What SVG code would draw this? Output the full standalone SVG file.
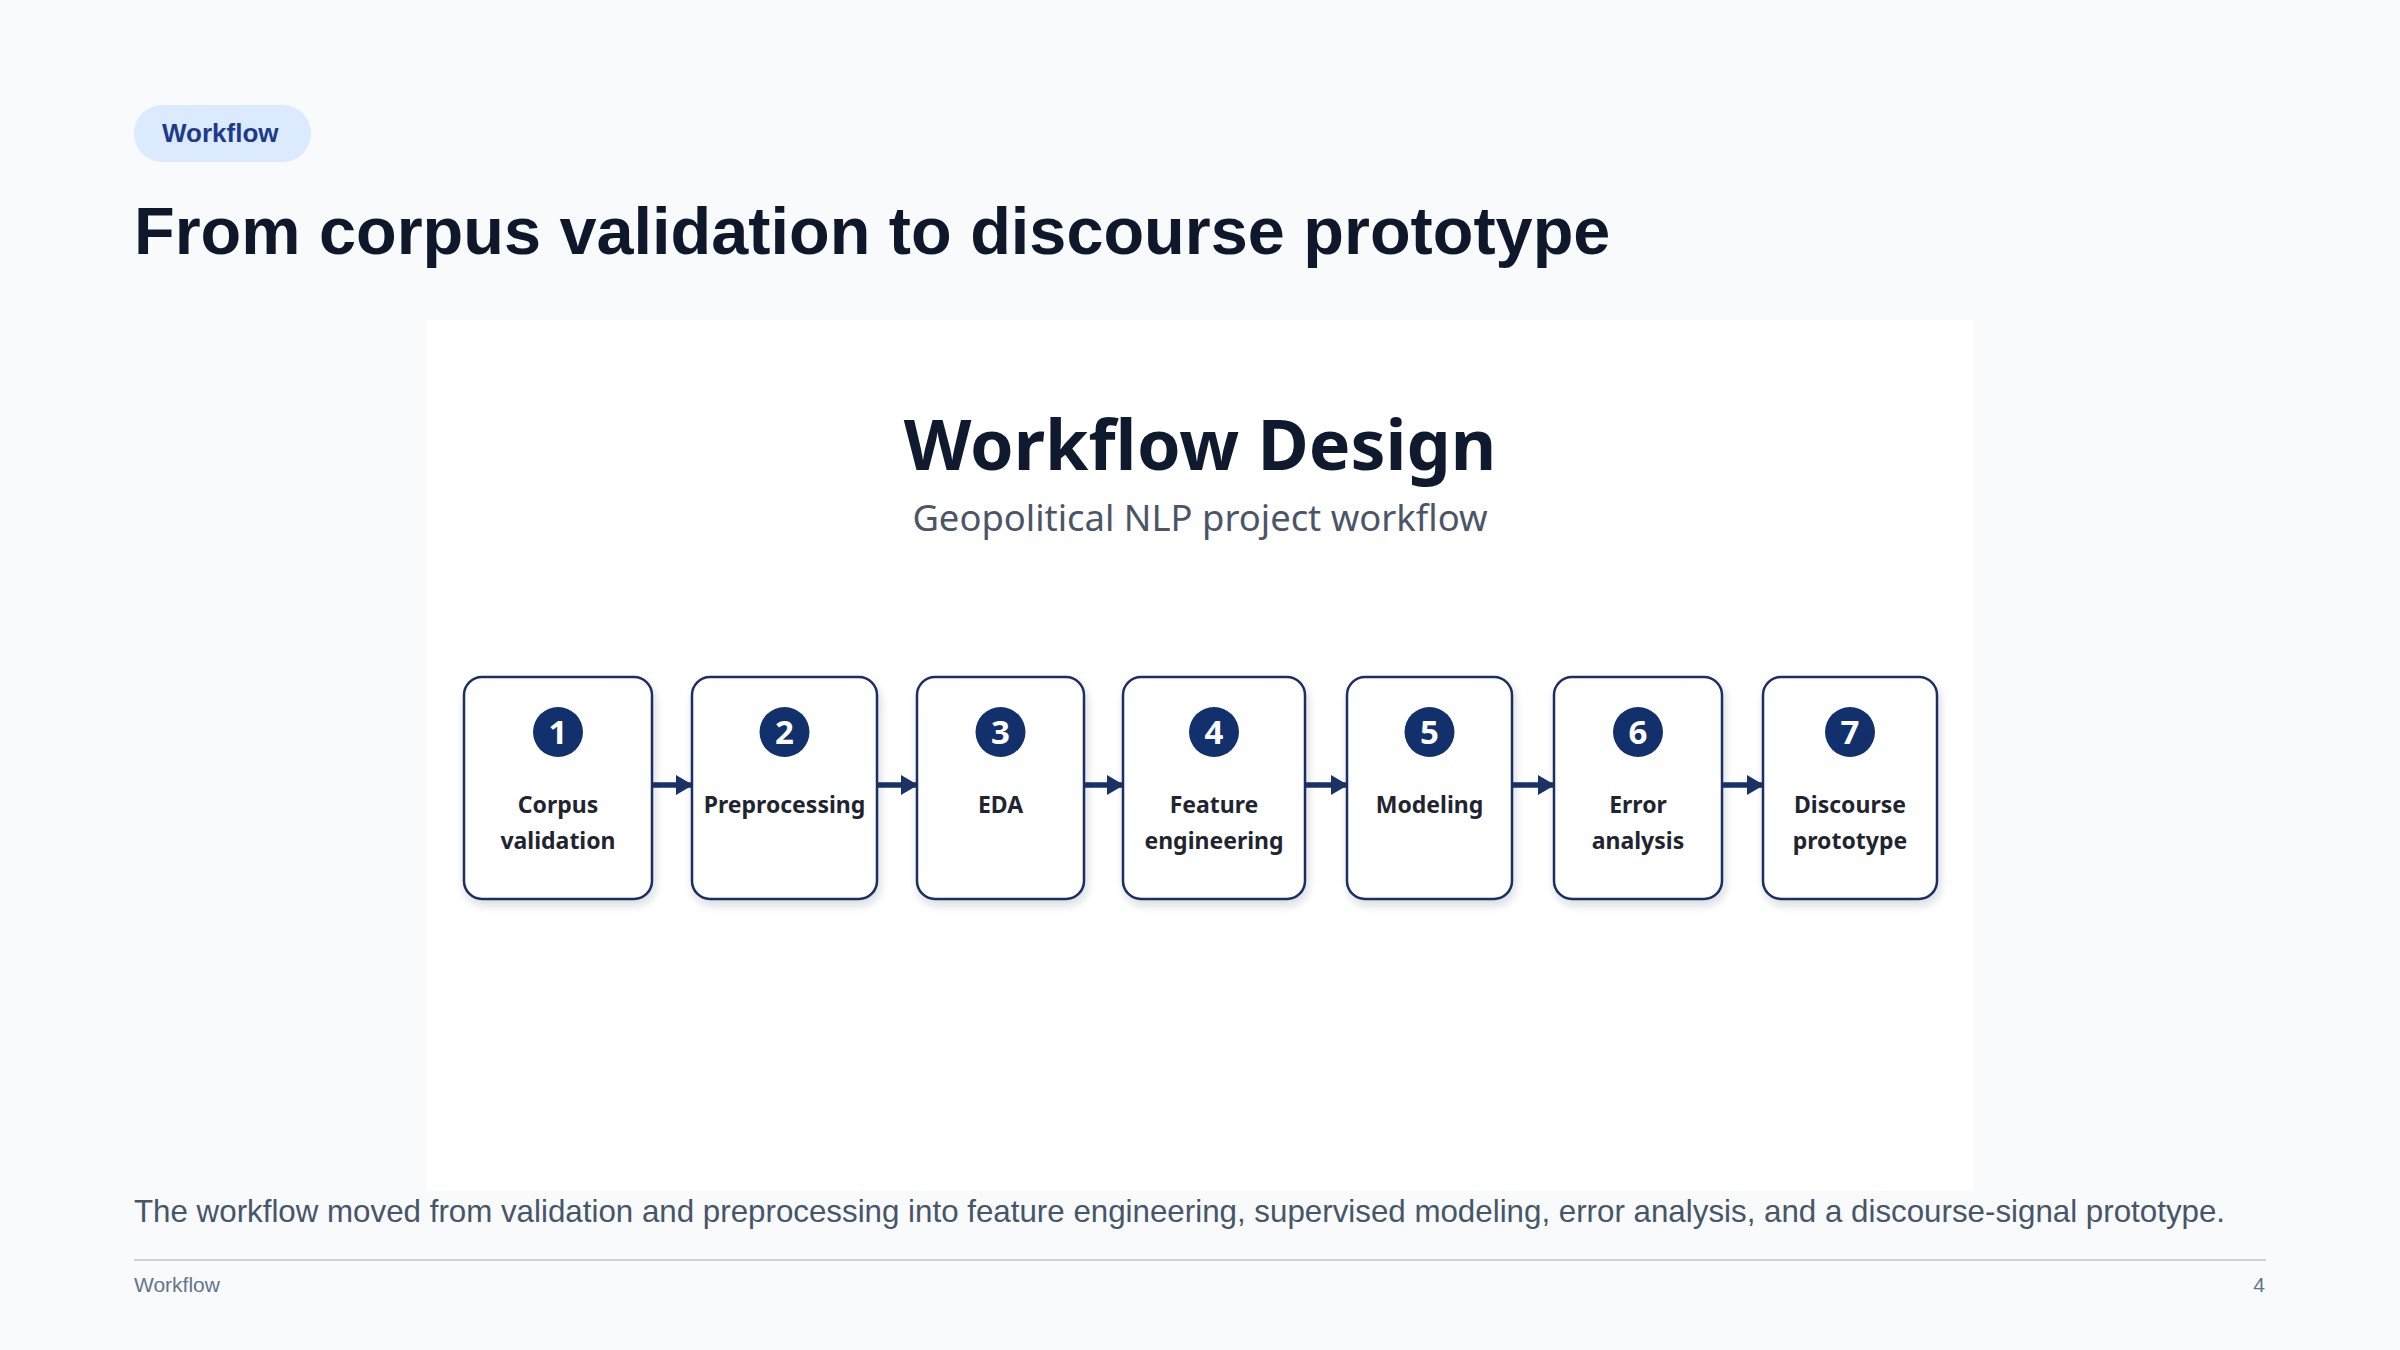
<svg xmlns="http://www.w3.org/2000/svg" width="2400" height="1350" viewBox="0 0 2400 1350">
<defs>
<filter id="sh" x="-20%" y="-20%" width="140%" height="140%">
<feDropShadow dx="2" dy="5" stdDeviation="4" flood-color="#1e293b" flood-opacity="0.16"/>
</filter>
<marker id="ah" markerWidth="17" markerHeight="20" refX="16" refY="10" orient="auto" markerUnits="userSpaceOnUse">
<path d="M0,0 L17,10 L0,20 Z" fill="#1b3266"/>
</marker>
<style>
.box{fill:#ffffff;stroke:#1b2f62;stroke-width:2.5;filter:url(#sh)}
.num{fill:#12306b}
.numt{font-family:"Noto Sans","Open Sans",sans-serif;font-weight:700;font-size:33px;fill:#ffffff;text-anchor:middle}
.lbl{font-family:"Noto Sans","Open Sans",sans-serif;font-weight:700;font-size:23px;fill:#1f2530;text-anchor:middle}
.conn{stroke:#1b3266;stroke-width:5.5;fill:none;marker-end:url(#ah)}
</style>
</defs>
<rect x="0" y="0" width="2400" height="1350" fill="#f8fafc"/>
<g id="header">
<rect x="134" y="105" width="177" height="57" rx="28.5" fill="#dbeafe"/>
<text x="162" y="142" font-family="Liberation Sans, Arial, sans-serif" font-weight="700" font-size="26" fill="#1e3a8a">Workflow</text>
<text x="134" y="254" font-family="Liberation Sans, Arial, sans-serif" font-weight="700" font-size="66.6" fill="#0f172a">From corpus validation to discourse prototype</text>
</g>
<rect x="426" y="320" width="1548" height="871" fill="#ffffff"/>
<g id="panel-title">
<text x="1200" y="470" font-family="Noto Sans, Open Sans, sans-serif" font-weight="700" font-size="70" fill="#0f1a2e" text-anchor="middle">Workflow Design</text>
<text x="1200" y="531" font-family="Noto Sans, Open Sans, sans-serif" font-size="36.4" fill="#4b5568" text-anchor="middle">Geopolitical NLP project workflow</text>
</g>
<g id="connectors">
<line class="conn" x1="652" y1="785" x2="692" y2="785"/>
<line class="conn" x1="877" y1="785" x2="917" y2="785"/>
<line class="conn" x1="1084" y1="785" x2="1123" y2="785"/>
<line class="conn" x1="1305" y1="785" x2="1347" y2="785"/>
<line class="conn" x1="1512" y1="785" x2="1554" y2="785"/>
<line class="conn" x1="1722" y1="785" x2="1763" y2="785"/>
</g>
<g id="step1">
<rect class="box" x="464" y="677" width="188" height="222" rx="18"/>
<circle class="num" cx="558" cy="732" r="25"/>
<text class="numt" x="558" y="744">1</text>
<text class="lbl" x="558" y="813">Corpus</text>
<text class="lbl" x="558" y="849">validation</text>
</g>
<g id="step2">
<rect class="box" x="692" y="677" width="185" height="222" rx="18"/>
<circle class="num" cx="784.5" cy="732" r="25"/>
<text class="numt" x="784.5" y="744">2</text>
<text class="lbl" x="784.5" y="813">Preprocessing</text>
</g>
<g id="step3">
<rect class="box" x="917" y="677" width="167" height="222" rx="18"/>
<circle class="num" cx="1000.5" cy="732" r="25"/>
<text class="numt" x="1000.5" y="744">3</text>
<text class="lbl" x="1000.5" y="813">EDA</text>
</g>
<g id="step4">
<rect class="box" x="1123" y="677" width="182" height="222" rx="18"/>
<circle class="num" cx="1214" cy="732" r="25"/>
<text class="numt" x="1214" y="744">4</text>
<text class="lbl" x="1214" y="813">Feature</text>
<text class="lbl" x="1214" y="849">engineering</text>
</g>
<g id="step5">
<rect class="box" x="1347" y="677" width="165" height="222" rx="18"/>
<circle class="num" cx="1429.5" cy="732" r="25"/>
<text class="numt" x="1429.5" y="744">5</text>
<text class="lbl" x="1429.5" y="813">Modeling</text>
</g>
<g id="step6">
<rect class="box" x="1554" y="677" width="168" height="222" rx="18"/>
<circle class="num" cx="1638" cy="732" r="25"/>
<text class="numt" x="1638" y="744">6</text>
<text class="lbl" x="1638" y="813">Error</text>
<text class="lbl" x="1638" y="849">analysis</text>
</g>
<g id="step7">
<rect class="box" x="1763" y="677" width="174" height="222" rx="18"/>
<circle class="num" cx="1850" cy="732" r="25"/>
<text class="numt" x="1850" y="744">7</text>
<text class="lbl" x="1850" y="813">Discourse</text>
<text class="lbl" x="1850" y="849">prototype</text>
</g>
<g id="footer">
<text x="134" y="1222" font-family="Liberation Sans, Arial, sans-serif" font-size="31.3" fill="#475569">The workflow moved from validation and preprocessing into feature engineering, supervised modeling, error analysis, and a discourse-signal prototype.</text>
<line x1="134" y1="1260" x2="2266" y2="1260" stroke="#cbd5e1" stroke-width="2"/>
<text x="134" y="1292" font-family="Liberation Sans, Arial, sans-serif" font-size="21" fill="#64748b">Workflow</text>
<text x="2265" y="1292" font-family="Liberation Sans, Arial, sans-serif" font-size="21" fill="#64748b" text-anchor="end">4</text>
</g>
</svg>
